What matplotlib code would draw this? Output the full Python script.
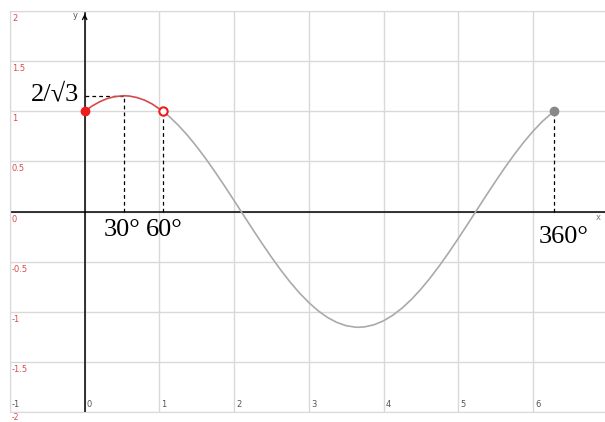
import numpy as np
import matplotlib
matplotlib.use("Agg")
import matplotlib.pyplot as plt
from matplotlib.transforms import offset_copy

# y = (2/sqrt3) * cos(x - 30deg), first part (0..60deg) drawn in red
red_x = [0.0, 0.1, 0.2, 0.3, 0.4, 0.5236, 0.6, 0.7, 0.8, 0.9, 1.0472]
red_y = [1.0, 1.0526, 1.0948, 1.1260, 1.1459, 1.1547, 1.1513, 1.1368, 1.1109, 1.0739, 1.0]

gray_x = [1.0472, 1.125, 1.25, 1.375, 1.5, 1.625, 1.75, 1.875, 2.0, 2.125, 2.25,
          2.375, 2.5, 2.625, 2.75, 2.875, 3.0, 3.125, 3.25, 3.375, 3.5, 3.625,
          3.665, 3.75, 3.875, 4.0, 4.125, 4.25, 4.375, 4.5, 4.625, 4.75, 4.875,
          5.0, 5.125, 5.25, 5.375, 5.5, 5.625, 5.75, 5.875, 6.0, 6.125, 6.2832]
gray_y = [1.0, 0.9521, 0.8631, 0.7608, 0.6466, 0.5224, 0.3898, 0.2514, 0.1089,
          -0.0353, -0.1789, -0.3197, -0.4554, -0.5843, -0.7043, -0.8126, -0.9083,
          -0.9903, -1.0569, -1.1064, -1.1392, -1.1538, -1.1547, -1.1506, -1.1294,
          -1.0906, -1.0347, -0.9629, -0.8758, -0.7751, -0.6625, -0.5393, -0.4078,
          -0.2700, -0.1279, 0.0162, 0.1600, 0.3010, 0.4380, 0.5678, 0.6893,
          0.7991, 0.8978, 1.0]

peak_x, peak_y = 0.5236, 1.1547
mark_x = [0.5236, 1.0472, 6.2832]
mark_y = [1.1547, 1.0, 1.0]
mark_labels = ["30°", "60°", "360°"]

x_ticks = [-1, 0, 1, 2, 3, 4, 5, 6]
y_ticks = [2, 1.5, 1, 0.5, 0, -0.5, -1, -1.5]
y_tick_labels = ["2", "1.5", "1", "0.5", "0", "-0.5", "-1", "-1.5"]

W, H = 605, 422
fig = plt.figure(figsize=(W / 100, H / 100), dpi=100)
ax = fig.add_axes([10 / W, 10 / H, 595 / W, 401 / H])
ax.set_xlim(-1, -1 + 595 / 74.7)
ax.set_ylim(-2, 2)

grid_c = "#d9d9d9"
for xv in x_ticks:
    ax.axvline(xv, color=grid_c, lw=1.0, zorder=0)
for yv in y_ticks + [-2]:
    ax.axhline(yv, color=grid_c, lw=1.0, zorder=0)
ax.set_xticks([])
ax.set_yticks([])
ax.spines["right"].set_visible(False)
for side in ["left", "top", "bottom"]:
    ax.spines[side].set_color(grid_c)

# axes with arrows
ax.plot([-1, 6.965], [0, 0], color="black", lw=1.1, zorder=2)
ax.plot([0, 0], [-2, 1.98], color="black", lw=1.1, zorder=2)
ax.annotate("", xy=(0, 2.0), xytext=(0, 1.9),
            arrowprops=dict(arrowstyle="->", lw=0.9, color="black",
                            mutation_scale=8), zorder=3)
ax.text(-0.13, 1.96, "y", fontsize=6, color="#555555", ha="center", va="center")
ax.text(6.88, -0.06, "x", fontsize=6, color="#777777", ha="center", va="center")

# tick labels drawn inside the plot area
lab_y = offset_copy(ax.transData, fig=fig, x=2, y=-3, units="dots")
for yv, lab in zip(y_ticks, y_tick_labels):
    ax.text(-1, yv, lab, transform=lab_y, fontsize=6, color="#d94a4a",
            ha="left", va="top", clip_on=False)
lab_low = offset_copy(ax.transData, fig=fig, x=2, y=-1.5, units="dots")
ax.text(-1, -2, "-2", transform=lab_low, fontsize=5.5, color="#d94a4a",
        ha="left", va="top", clip_on=False)
lab_x = offset_copy(ax.transData, fig=fig, x=2, y=3, units="dots")
for xv in x_ticks:
    ax.text(xv, -2, str(xv), transform=lab_x, fontsize=6, color="#555555",
            ha="left", va="bottom")

# curve
ax.plot(gray_x, gray_y, color="#aaaaaa", lw=1.2, zorder=3)
ax.plot(red_x, red_y, color="#d24b4b", lw=1.2, zorder=4)

# dashed guides
dash = dict(color="black", lw=0.9, ls=(0, (3, 2.5)), zorder=3)
ax.plot([0, peak_x], [peak_y, peak_y], **dash)
for mx, my in zip(mark_x, mark_y):
    ax.plot([mx, mx], [0, my], **dash)

# end points
ax.plot(0, 1, "o", ms=6, color="#ee1c1c", zorder=5)
ax.plot(1.0472, 1, "o", ms=6, mfc="white", mec="#ee1c1c", mew=1.5, zorder=5)
ax.plot(6.2832, 1, "o", ms=6, color="#888888", zorder=5)

serif = ["Liberation Serif", "DejaVu Serif"]
ax.text(-0.08, 1.17, "2/√3", fontsize=19, family=serif, ha="right", va="center")
ax.text(mark_x[0] - 0.02, -0.18, mark_labels[0], fontsize=19, family=serif,
        ha="center", va="center")
ax.text(mark_x[1] + 0.02, -0.18, mark_labels[1], fontsize=19, family=serif,
        ha="center", va="center")
ax.text(mark_x[2] + 0.13, -0.25, mark_labels[2], fontsize=19, family=serif,
        ha="center", va="center")

fig.savefig("out.png", dpi=100)
